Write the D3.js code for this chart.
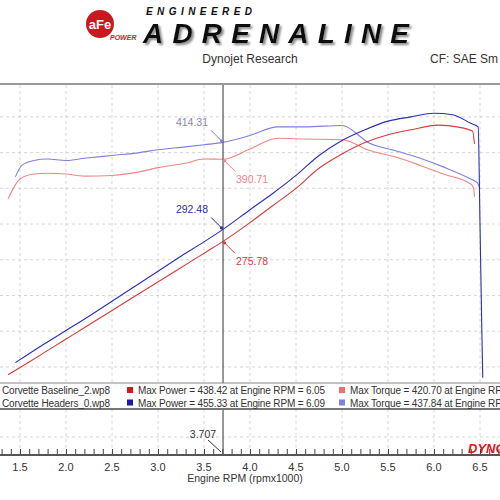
<!DOCTYPE html>
<html><head><meta charset="utf-8">
<script src="https://cdn.jsdelivr.net/npm/d3@7"></script>
<style>body{margin:0;background:#fff}svg{display:block}text{font-family:"Liberation Sans",Arial,sans-serif}</style>
</head><body><svg id="c" width="500" height="500"></svg>
<script>
const rpmTicks=[1.5,2.0,2.5,3.0,3.5,4.0,4.5,5.0,5.5,6.0,6.5];
const gridValues=[100,150,200,250,300,350,400,450];
const blueTqRpm=[1.45,1.52,1.65,1.8,2.0,2.2,2.5,2.8,3.0,3.3,3.5,3.707,4.0,4.3,4.6,5.0,5.3,5.6,5.85,6.1,6.4,6.47,6.5];
const blueTq=[366,382,389,391,389,392,396,400,404,408,411,414.31,424,436,436,438,413,402,392,380,363,358,349];
const redTqRpm=[1.37,1.5,1.65,1.8,2.0,2.2,2.5,2.8,3.0,3.3,3.5,3.707,4.0,4.3,4.6,5.0,5.3,5.6,5.85,6.1,6.4,6.43,6.44];
const redTq=[335,363,370,371,370,367,368,373,379,385,391,390.71,405,420,419,418,403,393,382,370,356,350,338];
const bluePwRpm=[1.45,1.75,2.0,2.25,2.5,2.75,3.0,3.25,3.5,3.707,4.0,4.25,4.5,4.75,5.0,5.25,5.5,5.75,6.0,6.2,6.4,6.48,6.5,6.52,6.53];
const bluePw=[106,131,151,171,192,213,234,255,275,292.48,320,343,368,396,417,432,444,450,455,453,441,436,300,150,85];
const redPwRpm=[1.37,1.6,1.85,2.1,2.35,2.6,2.85,3.1,3.35,3.55,3.707,4.0,4.25,4.5,4.75,5.0,5.25,5.5,5.75,6.05,6.25,6.42,6.44];
const redPw=[89,107,127,147,167,187,207,227,247,263,275.78,302,326,350,378,398,414,425,432,438.4,436,430,412];
const legendFiles=["Corvette Baseline_2.wp8","Corvette Headers_0.wp8"];
const legendPower=["Max Power = 438.42 at Engine RPM = 6.05","Max Power = 455.33 at Engine RPM = 6.09"];
const legendTorque=["Max Torque = 420.70 at Engine RPM = 5.25","Max Torque = 437.84 at Engine RPM = 5.00"];
const cursorRpm=3.707;

const svg=d3.select("#c");
svg.append("defs").html('<filter id="sh" x="-5%" y="-20%" width="110%" height="150%"><feDropShadow dx="2" dy="2" stdDeviation="1" flood-color="#888"/></filter>');
const x=d3.scaleLinear().domain([1.5,6.5]).range([20,480]);
const y=d3.scaleLinear().domain([77.5,496]).range([383,84]);
const C={bp:"#2b2fb0",bt:"#7f80de",rp:"#d93a3a",rt:"#f08585"};

// header
const g0=svg.append("g");
g0.append("circle").attr("cx",100).attr("cy",24).attr("r",14).attr("fill","#c8191e");
g0.append("text").attr("x",100).attr("y",29).attr("text-anchor","middle").attr("fill","#fff").attr("font-weight","bold").attr("font-size",13).text("aFe");
g0.append("text").attr("x",110).attr("y",40).attr("fill","#d0202a").attr("font-weight","bold").attr("font-style","italic").attr("font-size",7).text("POWER");
g0.append("text").attr("x",146).attr("y",15).attr("font-weight","bold").attr("font-style","italic").attr("font-size",10).attr("textLength",106).attr("fill","#111").text("ENGINEERED");
g0.append("text").attr("x",143).attr("y",43).attr("font-weight","bold").attr("font-style","italic").attr("font-size",28).attr("textLength",266).attr("fill","#111").attr("filter","url(#sh)").text("ADRENALINE");
svg.append("text").attr("x",250).attr("y",63).attr("text-anchor","middle").attr("font-size",12).attr("fill","#333").text("Dynojet Research");
svg.append("text").attr("x",430).attr("y",63).attr("font-size",12).attr("fill","#333").text("CF: SAE Sm");

// grids
const grid=svg.append("g").attr("stroke","#ccc").attr("stroke-dasharray","3,3").attr("stroke-width",0.8);
rpmTicks.forEach(t=>{grid.append("line").attr("x1",x(t)).attr("x2",x(t)).attr("y1",85).attr("y2",383);grid.append("line").attr("x1",x(t)).attr("x2",x(t)).attr("y1",409).attr("y2",454);});
gridValues.forEach(v=>grid.append("line").attr("x1",0).attr("x2",500).attr("y1",y(v)).attr("y2",y(v)));
grid.append("line").attr("x1",0).attr("x2",500).attr("y1",437).attr("y2",437);
svg.append("line").attr("x1",0).attr("x2",500).attr("y1",84).attr("y2",84).attr("stroke","#999").attr("stroke-width",2);

// curves
const line=d3.line().x(d=>x(d[0])).y(d=>y(d[1])).curve(d3.curveMonotoneX);
const lines=[[redTqRpm,redTq,C.rt],[blueTqRpm,blueTq,C.bt],[redPwRpm,redPw,C.rp],[bluePwRpm,bluePw,C.bp]];
lines.forEach(([r,v,c])=>svg.append("path").datum(r.map((a,i)=>[a,v[i]])).attr("d",line).attr("fill","none").attr("stroke",c).attr("stroke-width",1.1));

// cursor
svg.append("line").attr("x1",x(cursorRpm)).attr("x2",x(cursorRpm)).attr("y1",85).attr("y2",455).attr("stroke","#555").attr("stroke-width",1.2);
const ann=[[blueTq[11],C.bt,-1,-12,"414.31"],[redTq[11],C.rt,1,12,"390.71"],[bluePw[9],C.bp,-1,-12,"292.48"],[redPw[10],C.rp,1,12,"275.78"]];
ann.forEach(([v,c,s,dy,t])=>{const cx=x(cursorRpm),cy=y(v);
 svg.append("line").attr("x1",cx+s*12).attr("y1",cy+dy).attr("x2",cx).attr("y2",cy).attr("stroke",c).attr("stroke-width",1);
 svg.append("circle").attr("cx",cx+s*1.5).attr("cy",cy+Math.sign(dy)*1.5).attr("r",1.6).attr("fill",c);
 svg.append("text").attr("x",s<0?cx-15:cx+13).attr("y",cy+dy+(dy<0?-4:12)).attr("text-anchor",s<0?"end":"start").attr("font-size",10.5).attr("fill",c).text(t);});

// legend
svg.append("rect").attr("x",-2).attr("y",383).attr("width",504).attr("height",26).attr("fill","#fff").attr("stroke","#888").attr("stroke-width",1);
svg.append("line").attr("x1",0).attr("x2",500).attr("y1",409).attr("y2",409).attr("stroke","#777").attr("stroke-width",2);
[0,1].forEach(i=>{const yy=394+i*12.5;
 svg.append("text").attr("x",2).attr("y",yy).attr("font-size",10).attr("textLength",108).attr("fill","#333").text(legendFiles[i]);
 svg.append("rect").attr("x",127).attr("y",yy-7).attr("width",6).attr("height",6).attr("fill",i?"#1a1ab0":"#d81818");
 svg.append("text").attr("x",138).attr("y",yy).attr("font-size",10).attr("textLength",187).attr("fill","#333").text(legendPower[i]);
 svg.append("rect").attr("x",339).attr("y",yy-7).attr("width",6).attr("height",6).attr("fill",i?"#8080e0":"#f07070");
 svg.append("text").attr("x",350).attr("y",yy).attr("font-size",10).attr("textLength",190).attr("fill","#333").text(legendTorque[i]);});

// axis
const ax=svg.append("g").attr("transform","translate(0,455)");
ax.call(d3.axisTop(x).tickValues(d3.range(1.3,6.75,0.1)).tickSize(6).tickFormat(""));
ax.selectAll("line").attr("stroke","#444");ax.select(".domain").remove();
svg.append("line").attr("x1",0).attr("x2",500).attr("y1",455).attr("y2",455).attr("stroke","#555").attr("stroke-width",2);
svg.append("g").selectAll("text").data(rpmTicks).join("text").attr("x",d=>x(d)).attr("y",471).attr("text-anchor","middle").attr("font-size",11).attr("fill","#333").text(d=>d.toFixed(1));
svg.append("text").attr("x",245).attr("y",482).attr("text-anchor","middle").attr("font-size",10.5).attr("fill","#333").text("Engine RPM (rpmx1000)");
svg.append("text").attr("x",468).attr("y",453).attr("font-size",13).attr("font-weight","bold").attr("font-style","italic").attr("fill","#d81818").text("DYNO");
svg.append("line").attr("x1",208).attr("y1",440).attr("x2",221).attr("y2",452).attr("stroke","#333");
svg.append("text").attr("x",203).attr("y",438).attr("text-anchor","middle").attr("font-size",10.5).attr("fill","#333").text("3.707");
</script></body></html>
